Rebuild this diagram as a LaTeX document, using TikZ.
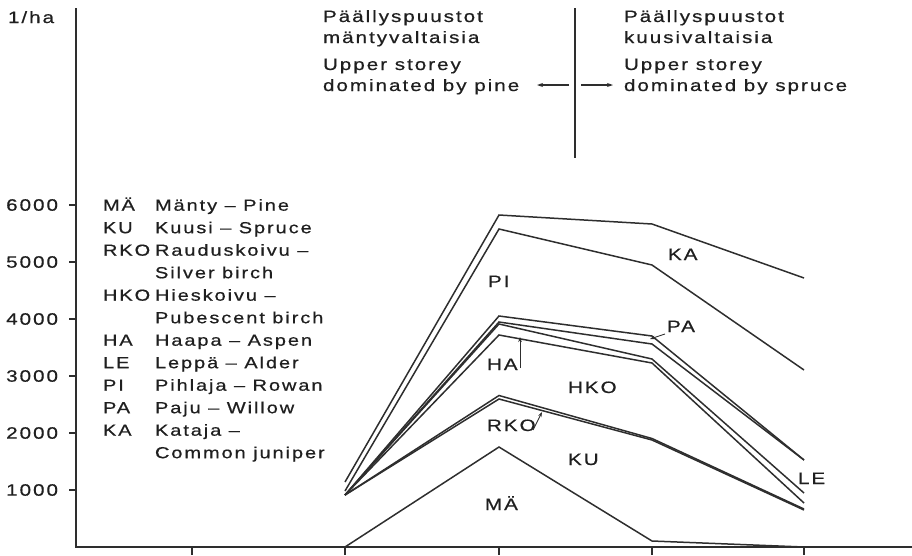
\documentclass[tikz,border=0pt]{standalone}
\usepackage{fontspec}
\setmainfont{Liberation Sans}[FakeStretch=1.25,LetterSpace=12,FakeBold=0.6]
\usetikzlibrary{arrows.meta}
\begin{document}
\begin{tikzpicture}[x=1pt,y=-1pt,
  every node/.style={inner sep=0pt, outer sep=0pt, font=\fontsize{16.5}{19}\selectfont, text=black!88},
  lbl/.style={anchor=base west},
  leg/.style={anchor=base west, font=\fontsize{16}{19}\selectfont},
  ticklbl/.style={anchor=east},
  dataline/.style={line width=1.5pt, draw=black!82, line join=miter},
  axisline/.style={line width=1.6pt, draw=black!82},
  ptr/.style={line width=0.9pt, draw=black!82, -{Stealth[length=5pt,width=3.5pt]}},
  toparrow/.style={line width=1.1pt, draw=black!82, -{Stealth[length=6pt,width=4pt]}},
]
\useasboundingbox (0,0) rectangle (912,555);

% axes
\draw[axisline] (76,8) -- (76,547) -- (912,547);
\foreach \v/\yy in {1000/490,2000/433,3000/376,4000/319,5000/262,6000/205}{
  \draw[axisline] (69,\yy) -- (76,\yy);
  \node[ticklbl] (t\v) at (58,\yy) {\v};
}
\foreach \xx in {192,345,499,652,804}{
  \draw[axisline] (\xx,547) -- (\xx,555);
}
\node[lbl] (unit) at (8,23) {1/ha};

% data lines
\draw[dataline] (345,547) -- (499,447) -- (652,541) -- (804,547);          % MA
\draw[dataline] (345,495) -- (499,399) -- (652,440) -- (804,510);          % KU
\draw[dataline] (345,495) -- (499,395.5) -- (652,438.5) -- (804,509);      % RKO
\draw[dataline] (345,495) -- (499,335) -- (652,363) -- (804,503);          % HKO
\draw[dataline] (345,495) -- (499,324) -- (652,359) -- (804,493);          % HA
\draw[dataline] (345,495) -- (499,322) -- (652,344) -- (804,460);          % LE
\draw[dataline] (345,495) -- (499,316) -- (652,336) -- (804,460);          % PA
\draw[dataline] (345,491) -- (499,229) -- (652,265) -- (804,370);          % PI
\draw[dataline] (345,482) -- (499,215) -- (652,224) -- (804,278);          % KA

% chart labels
\node[lbl] (lPI) at (488,287) {PI};
\node[lbl] (lKA) at (668,260) {KA};
\node[lbl] (lPA) at (667,332) {PA};
\node[lbl] (lHA) at (487,370) {HA};
\node[lbl] (lHKO) at (568,393) {HKO};
\node[lbl] (lRKO) at (487,431) {RKO};
\node[lbl] (lKU) at (568,465) {KU};
\node[lbl] (lMA) at (485,510) {MÄ};
\node[lbl] (lLE) at (798,484) {LE};

% pointers
\coordinate (haS) at (520,368);
\coordinate (haT) at (520,337);
\draw[ptr] (haS) -- (haT);
\coordinate (rkoS) at (533,430);
\coordinate (rkoT) at (542,412);
\draw[ptr] (rkoS) -- (rkoT);
\coordinate (paS) at (665,334);
\coordinate (paT) at (650,339);
\draw[ptr] (paS) -- (paT);

% legend
\foreach \ab/\nm/\yy in {MÄ/Mänty – Pine/210.7, KU/Kuusi – Spruce/233.2, RKO/Rauduskoivu –/255.7, /Silver birch/278.2, HKO/Hieskoivu –/300.7, /Pubescent birch/323.2, HA/Haapa – Aspen/345.7, LE/Leppä – Alder/368.2, PI/Pihlaja – Rowan/390.7, PA/Paju – Willow/413.2, KA/Kataja –/435.7, /Common juniper/458.2}{
  \node[leg] at (103,\yy) {\ab};
  \node[leg] at (155,\yy) {\nm};
}

% top headings
\draw[axisline] (575,8) -- (575,158);
\node[lbl] (h1) at (323,22) {Päällyspuustot};
\node[lbl] (h2) at (323,43) {mäntyvaltaisia};
\node[lbl] (h3) at (323,70) {Upper storey};
\node[lbl] (h4) at (323,91) {dominated by pine};
\node[lbl] (k1) at (624,22) {Päällyspuustot};
\node[lbl] (k2) at (624,43) {kuusivaltaisia};
\node[lbl] (k3) at (624,70) {Upper storey};
\node[lbl] (k4) at (624,91) {dominated by spruce};
\coordinate (aL1) at (569,85);
\coordinate (aL2) at (537,85);
\coordinate (aR1) at (581,85);
\coordinate (aR2) at (613,85);
\draw[toparrow] (aL1) -- (aL2);
\draw[toparrow] (aR1) -- (aR2);
\end{tikzpicture}
\end{document}
